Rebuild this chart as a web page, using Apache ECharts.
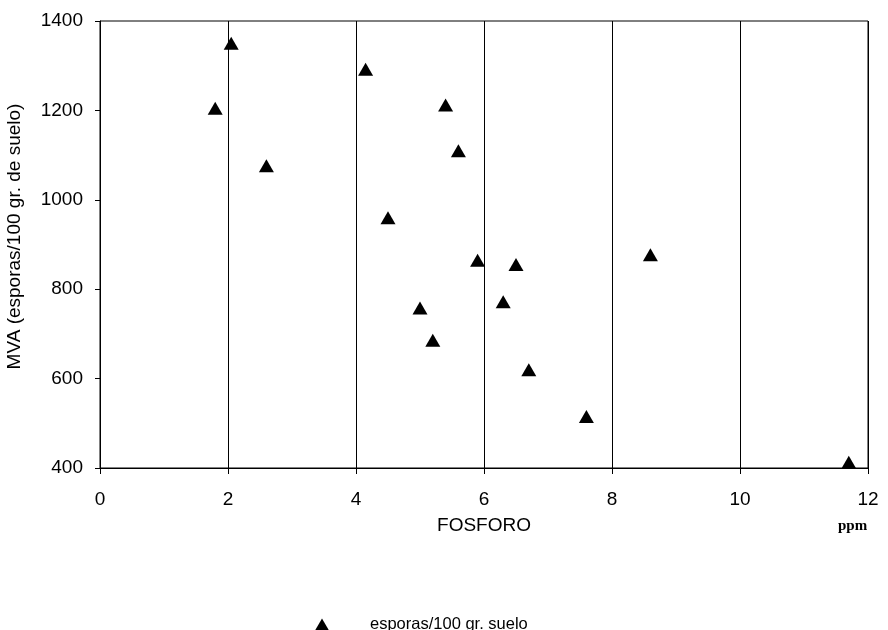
<!DOCTYPE html>
<html><head><meta charset="utf-8">
<script src="https://cdn.jsdelivr.net/npm/echarts@6/dist/echarts.min.js"></script>
<style>html,body{margin:0;padding:0;background:#fff}#c{width:888px;height:630px}</style>
</head><body><div id="c"></div>
<script>
var fosforo = [1.8, 2.05, 2.6, 4.15, 4.5, 5.0, 5.2, 5.4, 5.6, 5.9, 6.3, 6.5, 6.7, 7.6, 8.6, 11.7];
var esporas = [1205, 1350, 1076, 1292, 960, 758, 686, 1212, 1110, 865, 772, 855, 620, 515, 877, 413];
var seriesName = 'esporas/100 gr. suelo';
var xTicks = [0, 2, 4, 6, 8, 10, 12];
var yTicks = [400, 600, 800, 1000, 1200, 1400];

var chart = echarts.init(document.getElementById('c'));
var font = 'Liberation Sans, Arial, sans-serif';
chart.setOption({
  animation: false,
  grid: {left: 100, right: 20, top: 21, bottom: 162, show: true, borderColor: '#000', borderWidth: 1,
         containLabel: false, outerBoundsMode: 'none'},
  xAxis: {
    type: 'value', min: xTicks[0], max: xTicks[xTicks.length-1], interval: 2,
    name: 'FOSFORO', nameLocation: 'middle', nameGap: 48,
    nameTextStyle: {fontFamily: font, fontSize: 19, color: '#000'},
    axisLine: {show: true, onZero: false, lineStyle: {color: '#000', width: 1}},
    axisTick: {show: true, length: 6, lineStyle: {color: '#000'}},
    axisLabel: {fontFamily: font, fontSize: 19, color: '#000', margin: 22, formatter: function (v) { return String(v); }},
    splitLine: {show: true, lineStyle: {color: '#000', width: 1}}
  },
  yAxis: {
    type: 'value', min: yTicks[0], max: yTicks[yTicks.length-1], interval: 200,
    name: 'MVA (esporas/100 gr. de suelo)', nameLocation: 'middle', nameGap: 76, nameRotate: 90,
    nameTextStyle: {fontFamily: font, fontSize: 19, color: '#000', padding: [0, 0, 0, 16]},
    axisLine: {show: true, onZero: false, lineStyle: {color: '#000', width: 1}},
    axisTick: {show: true, length: 5, lineStyle: {color: '#000'}},
    axisLabel: {fontFamily: font, fontSize: 19, color: '#000', margin: 17, formatter: function (v) { return String(v); }},
    splitLine: {show: false}
  },
  legend: {
    left: 310, top: 611,
    data: [{name: seriesName, icon: 'triangle'}],
    itemWidth: 14, itemHeight: 12,
    textStyle: {fontFamily: font, fontSize: 16.5, color: '#000', padding: [0, 0, 0, 36]}
  },
  graphic: [{
    type: 'text', left: 838, top: 519,
    style: {text: 'ppm', fontFamily: 'Liberation Serif, serif', fontWeight: 'bold', fontSize: 15, fill: '#000'}
  }],
  series: [{
    name: seriesName, type: 'scatter', symbol: 'triangle', symbolSize: [15, 13],
    itemStyle: {color: '#000', opacity: 1},
    data: fosforo.map(function (x, i) { return [x, esporas[i]]; })
  }]
});
</script></body></html>
